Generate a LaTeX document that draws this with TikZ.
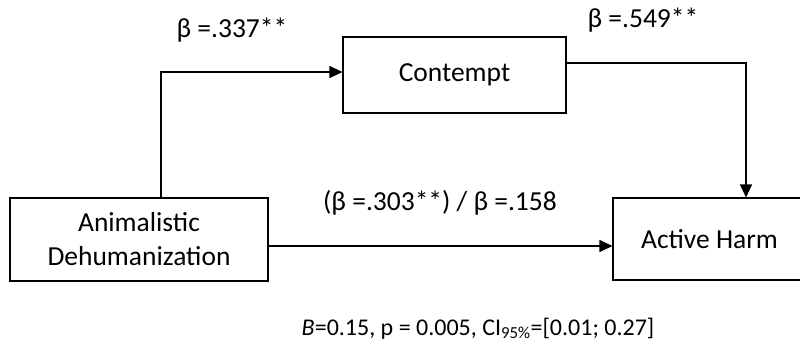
\documentclass[tikz,border=0pt]{standalone}
\usepackage{fontspec}
\setmainfont{Carlito}
\usetikzlibrary{arrows.meta}
\begin{document}
\begin{tikzpicture}[x=1bp,y=-1bp,
  box/.style={draw,line width=1.1bp,inner sep=0pt,align=center,font=\fontsize{27.5bp}{34bp}\selectfont},
  lab/.style={inner sep=0pt,font=\fontsize{27.5bp}{33bp}\selectfont},
  conn/.style={line width=1.1bp,-{Triangle[length=13bp,width=12bp]}}]
\useasboundingbox (0,0) rectangle (800,345);
\node[box,minimum width=258bp,minimum height=83bp] (AD) at (139,239.5) {Animalistic\\Dehumanization};
\node[box,minimum width=223bp,minimum height=76bp] (C) at (454.5,75) {Contempt};
\node[box,minimum width=193bp,minimum height=82bp] (AH) at (709.5,239) {Active Harm};
\coordinate (k1) at (161,72);
\coordinate (k2) at (746,63);
\coordinate (k3) at (0,246);
\draw[conn] (AD.north -| k1) -- (k1) -- (C.west |- k1);
\draw[conn] (C.east |- k2) -- (k2) -- (AH.north -| k2);
\draw[conn] (AD.east |- k3) -- (AH.west |- k3);
\node[lab] (l1) at (232,30) {β =.337**};
\node[lab] (l2) at (643,20) {β =.549**};
\node[lab] (l3) at (440,203) {(β =.303**) / β =.158};
\node[lab,font=\fontsize{24bp}{29bp}\selectfont] (l4) at (478,328.5) {\textit{B}=0.15, p = 0.005, CI\textsubscript{95\%}=[0.01; 0.27]};
\end{tikzpicture}
\end{document}
